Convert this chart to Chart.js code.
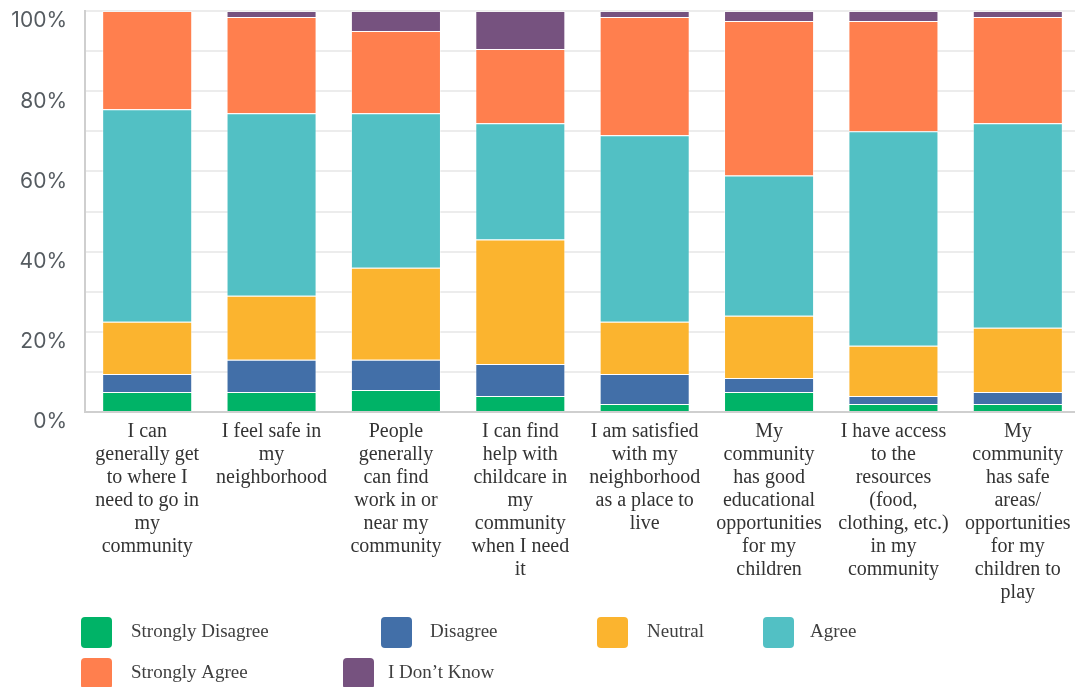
<!DOCTYPE html>
<html>
<head>
<meta charset="utf-8">
<script src="https://cdn.jsdelivr.net/npm/chart.js@4.4.0/dist/chart.umd.min.js"></script>
<style>
  html, body { margin: 0; padding: 0; background: #ffffff; overflow: hidden; }
  #wrap { position: relative; width: 1080px; height: 687px; }
</style>
</head>
<body>
<div id="wrap"><canvas id="surveyChart"></canvas></div>
<script>
// Categorias (afirmações)
const categories = [
    ['I can', 'generally get', 'to where I', 'need to go in', 'my', 'community'],
    ['I feel safe in', 'my', 'neighborhood'],
    ['People', 'generally', 'can find', 'work in or', 'near my', 'community'],
    ['I can find', 'help with', 'childcare in', 'my', 'community', 'when I need', 'it'],
    ['I am satisfied', 'with my', 'neighborhood', 'as a place to', 'live'],
    ['My', 'community', 'has good', 'educational', 'opportunities', 'for my', 'children'],
    ['I have access', 'to the', 'resources', '(food,', 'clothing, etc.)', 'in my', 'community'],
    ['My', 'community', 'has safe', 'areas/', 'opportunities', 'for my', 'children to', 'play']
];

// Valores em % por resposta
const stronglyDisagree = [5, 5, 5.5, 4, 2, 5, 2, 2];
const disagree         = [4.5, 8, 7.5, 8, 7.5, 3.5, 2, 3];
const neutral          = [13, 16, 23, 31, 13, 15.5, 12.5, 16];
const agree            = [53, 45.5, 38.5, 29, 46.5, 35, 53.5, 51];
const stronglyAgree    = [24.5, 24, 20.5, 18.5, 29.5, 38.5, 27.5, 26.5];
const dontKnow         = [0, 1.5, 5, 9.5, 1.5, 2.5, 2.5, 1.5];

const seriesNames = ['Strongly Disagree', 'Disagree', 'Neutral', 'Agree', 'Strongly Agree', 'I Don\u2019t Know'];
const seriesData = [stronglyDisagree, disagree, neutral, agree, stronglyAgree, dontKnow];
const yTicks = [0, 20, 40, 60, 80, 100];

// Cores das respostas
const seriesColors = ['#00b367', '#426fa8', '#fbb42f', '#52c0c4', '#ff7f4e', '#76527f'];

// Posições da legenda (duas linhas, como na figura)
const legendSlots = [
    { x: 81, y: 617, tx: 131 },
    { x: 381, y: 617, tx: 430 },
    { x: 597, y: 617, tx: 647 },
    { x: 763, y: 617, tx: 810 },
    { x: 81, y: 658, tx: 131 },
    { x: 343, y: 658, tx: 388 }
];

const legendPlugin = {
    id: 'slotLegend',
    afterDraw(chart) {
        const ctx = chart.ctx;
        ctx.save();
        chart.data.datasets.forEach((ds, i) => {
            const s = legendSlots[i];
            ctx.fillStyle = ds.backgroundColor;
            ctx.beginPath();
            ctx.roundRect(s.x, s.y, 31, 31, 4);
            ctx.fill();
            ctx.fillStyle = '#3f3f3f';
            ctx.font = '19px "Liberation Serif", "Times New Roman", serif';
            ctx.textBaseline = 'middle';
            ctx.textAlign = 'left';
            ctx.fillText(ds.label, s.tx, s.y + 15);
        });
        ctx.restore();
    }
};

const ctx = document.getElementById('surveyChart').getContext('2d');
const chart = new Chart(ctx, {
    type: 'bar',
    data: {
        labels: categories,
        datasets: seriesNames.map((name, i) => ({
            label: name,
            data: seriesData[i],
            backgroundColor: seriesColors[i],
            borderColor: 'rgba(255,255,255,0.45)',
            borderWidth: 1,
            barPercentage: 0.724,
            categoryPercentage: 1
        }))
    },
    options: {
        responsive: true,
        maintainAspectRatio: false,
        animation: false,
        layout: { padding: { top: 11, left: 0, right: 0, bottom: 0 } },
        plugins: {
            legend: { display: false },
            tooltip: { enabled: false }
        },
        scales: {
            x: {
                stacked: true,
                grid: { drawOnChartArea: false, drawTicks: false },
                border: { display: true, color: '#cfcfcf', width: 2 },
                ticks: {
                    autoSkip: false,
                    maxRotation: 0,
                    minRotation: 0,
                    padding: 8,
                    color: '#333333',
                    font: { family: '"Liberation Serif", "Times New Roman", serif', size: 20, lineHeight: '23px' }
                },
                afterFit(scale) { scale.height = 275; }
            },
            y: {
                stacked: true,
                min: 0,
                max: 100,
                grid: { color: '#ececec', lineWidth: 2, drawTicks: false },
                border: { display: true, color: '#cfcfcf', width: 2 },
                ticks: {
                    stepSize: 10,
                    padding: 18,
                    labelOffset: 10,
                    color: '#555b60',
                    font: { family: 'Inter, "Liberation Sans", sans-serif', size: 21 },
                    callback: function(value) {
                        return yTicks.includes(value) ? value + '%' : '';
                    }
                },
                afterFit(scale) {
                    scale.width = 85;
                    scale.paddingTop = 0;
                    scale.paddingBottom = 0;
                }
            }
        }
    },
    plugins: [legendPlugin]
});
</script>
</body>
</html>
